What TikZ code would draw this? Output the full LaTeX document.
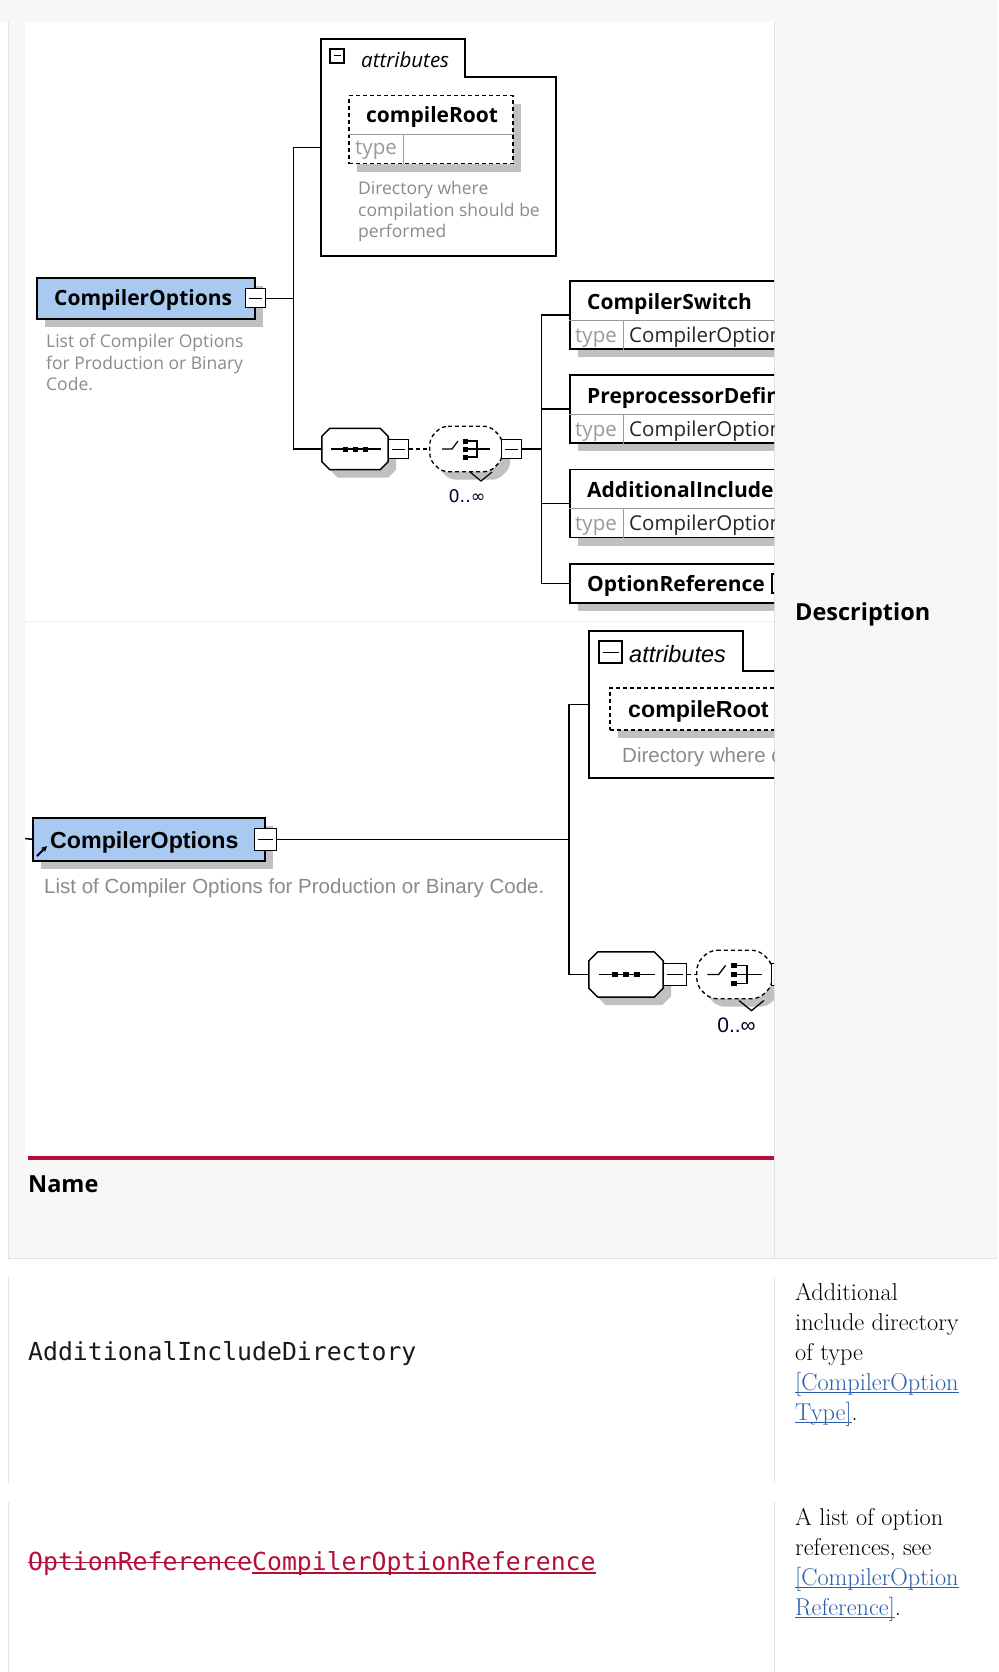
\documentclass[tikz,border=0pt]{standalone}
\usepackage{fontspec}
\newfontfamily\xsdfont{Open Sans}
\newfontfamily\xsdarial{Liberation Sans}
\newfontfamily\xsdsym{DejaVu Sans}
\setmonofont{DejaVu Sans Mono}
\usetikzlibrary{positioning,calc,shadows,arrows.meta}

\definecolor{hdrgray}{HTML}{F7F7F7}
\definecolor{rulegray}{HTML}{E2E2E2}
\definecolor{sepgray}{HTML}{EFEFEF}
\definecolor{crimson}{HTML}{B20E37}
\definecolor{linkblue}{HTML}{2C5DAD}
\definecolor{elemblue}{HTML}{A8CAF0}
\definecolor{shadowgray}{HTML}{C0C0C0}
\definecolor{descgray}{HTML}{8F8A85}
\definecolor{typegray}{HTML}{9A9A9A}

% underlined link, struck and underlined text
\newcommand\linkul[1]{\textcolor{linkblue}{\setbox0\hbox{#1}\rlap{\rule[-3pt]{\wd0}{1.2pt}}\box0}}
\newcommand\strk[1]{\setbox0\hbox{#1}\rlap{\rule[7pt]{\wd0}{1.3pt}}\box0}
\newcommand\undl[1]{\setbox0\hbox{#1}\rlap{\rule[-3.5pt]{\wd0}{1.2pt}}\box0}
% octagon round a named node, #2 = corner cut
\newcommand\octpath[2]{($(#1.north west)+(#2,0)$) -- ($(#1.north east)+(-#2,0)$) -- ($(#1.north east)+(0,#2)$) -- ($(#1.south east)+(0,-#2)$) -- ($(#1.south east)+(-#2,0)$) -- ($(#1.south west)+(#2,0)$) -- ($(#1.south west)+(0,-#2)$) -- ($(#1.north west)+(0,#2)$) -- cycle}

\tikzset{
  conn/.style={line width=1.5pt},
  dconn/.style={line width=1.5pt, dash pattern=on 4pt off 3pt},
  tabline/.style={line width=1.5pt},
  xsdshadow/.style={drop shadow={shadow xshift=8pt, shadow yshift=-8pt, fill=shadowgray, opacity=1}},
  castshadow/.style={fill=shadowgray, transform canvas={xshift=8pt, yshift=-8pt}},
  rootbox/.style={draw, line width=1.6pt, fill=elemblue, inner sep=0pt, xsdshadow},
  elem/.style={draw, line width=1.5pt, fill=white, inner sep=0pt, anchor=west, xsdshadow},
  attbox/.style={draw, line width=1.5pt, dash pattern=on 4pt off 3pt, fill=white, inner sep=0pt, xsdshadow},
  minbox/.style={draw, line width=1.2pt, fill=white, minimum width=20pt, minimum height=19pt, inner sep=0pt,
    path picture={\draw[line width=1pt] ([xshift=3.5pt]path picture bounding box.west) -- ([xshift=-3.5pt]path picture bounding box.east);}},
  hold/.style={inner sep=0pt},
  seqline/.style={draw, line width=1.5pt, fill=white},
  choiceline/.style={draw, line width=1.3pt, dash pattern=on 4pt off 3pt, fill=white, rounded corners=6pt},
  nm1/.style={anchor=base west, inner sep=0pt, font={\xsdfont\bfseries\fontsize{21}{25}\selectfont}},
  nm2/.style={anchor=base west, inner sep=0pt, font={\xsdarial\bfseries\fontsize{23.2}{27}\selectfont}},
  atxt1/.style={anchor=base west, inner sep=0pt, font={\xsdfont\itshape\fontsize{20.5}{24}\selectfont}},
  atxt2/.style={anchor=base west, inner sep=0pt, font={\xsdarial\itshape\fontsize{23.5}{27}\selectfont}},
  typelbl/.style={anchor=base west, inner sep=0pt, text=typegray, font={\xsdfont\fontsize{20.5}{24}\selectfont}},
  typeval/.style={anchor=base west, inner sep=0pt, text=black!85, font={\xsdfont\fontsize{20.5}{24}\selectfont}},
  desc1/.style={anchor=base west, inner sep=0pt, text=descgray, font={\xsdfont\fontsize{17.5}{21}\selectfont}},
  desc2/.style={anchor=base west, inner sep=0pt, text=descgray, font={\xsdarial\fontsize{20.5}{24}\selectfont}},
  mult1/.style={inner sep=0pt, text=black!80!blue, font={\xsdsym\fontsize{17.5}{21}\selectfont}},
  mult2/.style={inner sep=0pt, text=black!80!blue, font={\xsdarial\fontsize{21}{24}\selectfont}},
  hdr/.style={anchor=base west, inner sep=0pt, text=black, font={\xsdfont\bfseries\fontsize{23.5}{28}\selectfont}},
  monotxt/.style={anchor=base west, inner sep=0pt, text=black!90, font={\ttfamily\fontsize{24.8}{30}\selectfont}},
  desctxt/.style={anchor=base west, inner sep=0pt, text=black, font={\rmfamily\fontsize{24.3}{30}\selectfont}},
}

\begin{document}
\begin{tikzpicture}[x=1pt,y=-1pt]
\useasboundingbox (0,0) rectangle (998,1672);
% --- table cells ---
\fill[hdrgray] (0,0) rectangle (998,22);
\fill[hdrgray] (8,22) rectangle (998,1258);
\draw[rulegray] (8,22) -- (8,1258) -- (998,1258);
\draw[rulegray] (774,22) -- (774,1258);
\fill[white] (25,22) rectangle (774,1155);
\fill[crimson] (28,1156) rectangle (774,1160);
\foreach \ya/\yb in {1277/1483,1502/1672} {
  \draw[rulegray] (8,\ya) -- (8,\yb);
  \draw[rulegray] (774,\ya) -- (774,\yb);
}

\begin{scope}
\clip (25,22) rectangle (774,1155);
\draw[sepgray] (25,621) -- (774,621);

% --- first diagram ---
\node[rootbox, minimum width=218pt, minimum height=41pt, anchor=north west] (root1) at (36,277) {};
\node[nm1] (root1n) at (54,305) {CompilerOptions};
\node[minbox] (min1) at (root1.east) {};
\foreach \t [count=\k] in {List of Compiler Options,for Production or Binary,Code.}
  \node[desc1] (rd\k) at (46,326+21.5*\k) {\t};

\node[hold, minimum width=235pt, minimum height=217pt, anchor=north west] (att1) at (321,39) {};
\draw[tabline] (321,256) -- (321,39) -- (465,39) -- (465,77) -- (556,77) -- (556,256) -- cycle;
\node[minbox, minimum width=14pt, minimum height=14pt] (atm1) at (337,56) {};
\node[atxt1] (att1n) at (361,68) {attributes};
\node[attbox, minimum width=164pt, minimum height=68pt, anchor=north west] (cr1) at (348,95) {};
\draw[typegray, line width=1pt] ($(cr1.north west)+(0,40)$) -- ($(cr1.north east)+(0,40)$);
\draw[typegray, line width=1pt] ($(cr1.north west)+(55,40)$) -- ($(cr1.south west)+(55,0)$);
\node[nm1] (cr1n) at ($(cr1.north west)+(18,28)$) {compileRoot};
\node[typelbl] (cr1t) at ($(cr1.north west)+(7,60)$) {type};
\foreach \t [count=\k] in {Directory where,compilation should be,performed}
  \node[desc1] (cd\k) at (358,174+21*\k) {\t};

\node[hold, minimum width=66pt, minimum height=41pt] (seq1) at (355,449) {};
\fill[castshadow] \octpath{seq1}{8};
\path[seqline] \octpath{seq1}{8};
\draw[line width=1.2pt] ($(seq1.center)+(-24,0)$) -- ($(seq1.center)+(26,0)$);
\foreach \dx in {-10,0,10} \fill ($(seq1.center)+(\dx-2.5,-2.5)$) rectangle +(5,5);
\node[minbox, right=0pt of seq1] (min2) {};
\node[hold, minimum width=72pt, minimum height=45pt] (ch1) at (466,449) {};
\fill[castshadow, rounded corners=6pt] \octpath{ch1}{12};
\path[choiceline] \octpath{ch1}{12};
\begin{scope}[shift={(ch1.center)}]
  \draw[line width=1.2pt] (-24,0) -- (-14,0) -- (-8,-8);
  \foreach \yy in {-8,0,8} \fill (-3,\yy-2.5) rectangle (2,\yy+2.5);
  \draw[line width=1.2pt] (2,-8) -- (11,-8) -- (11,8) -- (2,8) (2,0) -- (24,0);
  \draw[line width=1.2pt] (4,23) -- (15,32) -- (26,23);
\end{scope}
\node[minbox, right=-1pt of ch1] (min3) {};
\node[mult1, anchor=base] (mul1) at ($(ch1.south)+(1,31)$) {0..∞};

\coordinate (j1) at ($(min1.east)+(27.5,0)$);
\draw[conn] (min1.east) -- (j1);
\draw[conn] (j1) |- (att1.west);
\draw[conn] (j1) |- (seq1.west);
\draw[dconn] (min2.east) -- (ch1.west);
\coordinate (j2) at ($(min3.east)+(19,0)$);
\draw[conn] (min3.east) -- (j2);

\foreach \nm/\yy [count=\k] in {CompilerSwitch/315,PreprocessorDefinition/409,AdditionalIncludeDirectory/503.5} {
  \node[elem, minimum width=260pt, minimum height=68pt] (el\k) at (569,\yy) {};
  \draw[typegray, line width=1pt] ($(el\k.north west)+(0,40)$) -- +(260,0);
  \draw[typegray, line width=1pt] ($(el\k.north west)+(54,40)$) -- ($(el\k.south west)+(54,0)$);
  \node[nm1] (nm\k) at ($(el\k.north west)+(18,29)$) {\nm};
  \node[typelbl] (ty\k) at ($(el\k.north west)+(6,62)$) {type};
  \node[typeval] (tv\k) at ($(el\k.north west)+(60,62)$) {CompilerOptionType};
  \draw[conn] (j2) |- (el\k.west);
}
\node[elem, minimum width=260pt, minimum height=39pt] (el4) at (569,583.5) {};
\node[nm1] (nm4) at ($(el4.north west)+(18,28)$) {OptionReference};
\node[minbox] (min5) at (782,583.5) {};
\draw[conn] (j2) |- (el4.west);

% --- second diagram ---
\node[rootbox, minimum width=232pt, minimum height=43pt, anchor=north west] (root2) at (32,817) {};
\node[nm2] (root2n) at (50,848) {CompilerOptions};
\draw[-{Stealth[length=6pt,width=6pt]}, line width=2pt] (37,856) -- (47,846);
\node[minbox, minimum width=22pt, minimum height=22pt] (min4) at (root2.east) {};
\coordinate (stub) at (25,838.5);
\draw[conn] (stub) -- (root2.west);
\node[desc2] (rd4) at (44,893) {List of Compiler Options for Production or Binary Code.};

\node[hold, minimum width=261pt, minimum height=147pt, anchor=north west] (att2) at (589,631) {};
\draw[tabline] (589,778) -- (589,631) -- (743,631) -- (743,671) -- (850,671) -- (850,778) -- cycle;
\node[minbox, minimum width=23pt, minimum height=22pt] (atm2) at (610.5,652) {};
\node[atxt2] (att2n) at (629,662) {attributes};
\node[attbox, minimum width=250pt, minimum height=42pt, anchor=north west] (cr2) at (609,687) {};
\node[nm2] (cr2n) at (628,717) {compileRoot};
\node[desc2] (cd4) at (622,762) {Directory where compilation should be performed};

\node[hold, minimum width=74pt, minimum height=45pt] (seq2) at (626,974.5) {};
\fill[castshadow] \octpath{seq2}{9};
\path[seqline] \octpath{seq2}{9};
\draw[line width=1.3pt] ($(seq2.center)+(-27,0)$) -- ($(seq2.center)+(29,0)$);
\foreach \dx in {-11,0,11} \fill ($(seq2.center)+(\dx-2.8,-2.8)$) rectangle +(5.6,5.6);
\node[minbox, minimum width=23pt, minimum height=22pt, right=0pt of seq2] (min6) {};
\node[hold, minimum width=75pt, minimum height=48pt] (ch2) at (734.5,974.5) {};
\fill[castshadow, rounded corners=7pt] \octpath{ch2}{13};
\path[choiceline, rounded corners=7pt] \octpath{ch2}{13};
\begin{scope}[shift={(ch2.center)}, scale=1.13]
  \draw[line width=1.3pt] (-24,0) -- (-14,0) -- (-8,-8);
  \foreach \yy in {-8,0,8} \fill (-3,\yy-2.5) rectangle (2,\yy+2.5);
  \draw[line width=1.3pt] (2,-8) -- (11,-8) -- (11,8) -- (2,8) (2,0) -- (24,0);
  \draw[line width=1.3pt] (4,23) -- (15,32) -- (26,23);
\end{scope}
\node[minbox, minimum width=23pt, minimum height=22pt, right=-1pt of ch2] (min7) {};
\node[mult2, anchor=base] (mul2) at ($(ch2.south)+(2,34)$) {0..∞};

\coordinate (j3) at ($(min4.east)+(292,0)$);
\draw[conn] (min4.east) -- (j3);
\draw[conn] (j3) |- (att2.west);
\draw[conn] (j3) |- (seq2.west);
\draw[dconn] (min6.east) -- (ch2.west);
\end{scope}

% --- table texts ---
\node[hdr] (hdname) at (28,1192) {Name};
\node[hdr] (hddesc) at (795,620) {Description};
\node[monotxt] (r2name) at (28,1360) {AdditionalIncludeDirectory};
\node[monotxt, text=crimson] (r3name) at (28,1570) {\strk{OptionReference}\undl{CompilerOptionReference}};
\foreach \t [count=\k] in {Additional,include directory,of type,{\linkul{[CompilerOption}},{\linkul{Type]}.}}
  \node[desctxt] (r2d\k) at (795,1270+30*\k) {\t};
\foreach \t [count=\k] in {A list of option,{references, see},{\linkul{[CompilerOption}},{\linkul{Reference]}.}}
  \node[desctxt] (r3d\k) at (795,1495+30*\k) {\t};
\end{tikzpicture}
\end{document}
